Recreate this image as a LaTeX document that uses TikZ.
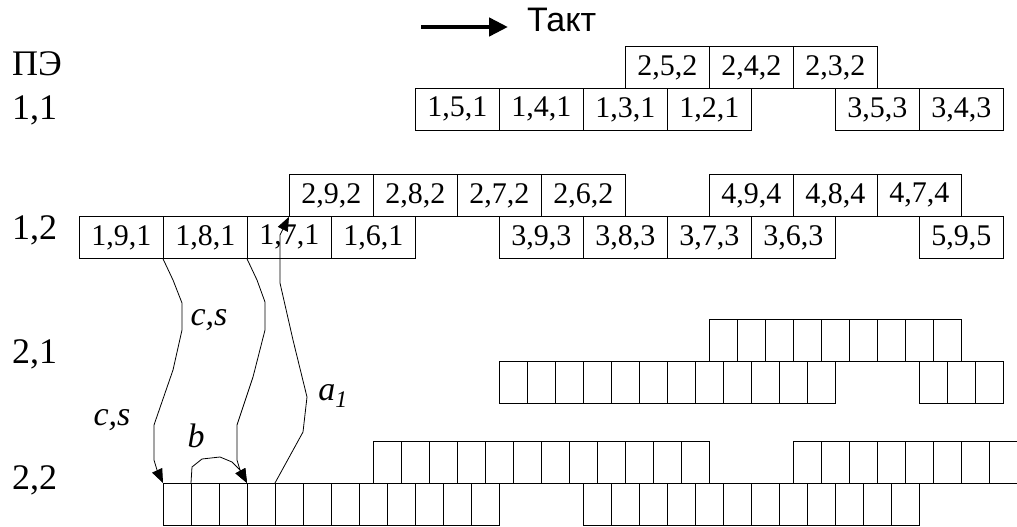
\documentclass[tikz,border=0pt]{standalone}
\usepackage{fontspec}
\setmainfont{Liberation Serif}
\newfontfamily\sansf{Liberation Sans}
\usetikzlibrary{arrows.meta}
\begin{document}
\begin{tikzpicture}[x=1pt,y=-1pt,
 box/.style={draw, line width=0.8pt, minimum width=84pt, minimum height=42pt, inner sep=0pt, anchor=north west, font=\fontsize{30}{30}\selectfont},
 cell/.style={draw, line width=0.8pt, minimum width=28pt, minimum height=42pt, inner sep=0pt, anchor=north west},
 lbl/.style={anchor=west, inner sep=0pt, font=\fontsize{36}{36}\selectfont},
 ital/.style={inner sep=0pt, font=\fontsize{34}{34}\selectfont\itshape},
 conn/.style={line width=0.8pt},
 tip/.style={-{Triangle[length=14pt,width=11pt]}}]
\useasboundingbox (0,0) rectangle (1017,527);
\clip (0,0) rectangle (1017,527);
% time arrow
\coordinate (ts) at (421,27);
\coordinate (te) at (508,27);
\draw[line width=4.5pt, -{Triangle[length=19pt,width=18pt]}] (ts) -- (te);
\node[anchor=base west, inner sep=0pt, font=\sansf\fontsize{34}{34}\selectfont] (takt) at (527,32) {Такт};
% row labels
\node[lbl] (lpe) at (12,64) {ПЭ};
\node[lbl] (l11) at (12,110) {1,1};
\node[lbl] (l12) at (12,230) {1,2};
\node[lbl] (l21) at (12,354) {2,1};
\node[lbl] (l22) at (12,480) {2,2};
% PE 1,1
\node[box] (n252) at (625,46) {2,5,2};
\node[box] (n242) at (709,46) {2,4,2};
\node[box] (n232) at (793,46) {2,3,2};
\node[box] (n151) at (415,88) {1,5,1};
\node[box] (n141) at (499,88) {1,4,1};
\node[box] (n131) at (583,88) {1,3,1};
\node[box] (n121) at (667,88) {1,2,1};
\node[box] (n353) at (835,88) {3,5,3};
\node[box] (n343) at (919,88) {3,4,3};
% PE 1,2
\node[box] (n292) at (289,174) {2,9,2};
\node[box] (n282) at (373,174) {2,8,2};
\node[box] (n272) at (457,174) {2,7,2};
\node[box] (n262) at (541,174) {2,6,2};
\node[box] (n494) at (709,174) {4,9,4};
\node[box] (n484) at (793,174) {4,8,4};
\node[box] (n474) at (877,174) {4,7,4};
\node[box] (n191) at (79,216) {1,9,1};
\node[box] (n181) at (163,216) {1,8,1};
\node[box] (n171) at (247,216) {1,7,1};
\node[box] (n161) at (331,216) {1,6,1};
\node[box] (n393) at (499,216) {3,9,3};
\node[box] (n383) at (583,216) {3,8,3};
\node[box] (n373) at (667,216) {3,7,3};
\node[box] (n363) at (751,216) {3,6,3};
\node[box] (n595) at (919,216) {5,9,5};
% PE 2,1
\foreach \i in {0,...,8} \node[cell] (a\i) at (709+28*\i,319) {};
\foreach \i in {0,...,11} \node[cell] (b\i) at (499+28*\i,361) {};
\foreach \i in {0,...,2} \node[cell] (c\i) at (919+28*\i,361) {};
% PE 2,2
\foreach \i in {0,...,11} \node[cell] (d\i) at (373+28*\i,441) {};
\foreach \i in {0,...,8} \node[cell] (e\i) at (793+28*\i,441) {};
\foreach \i in {0,...,11} \node[cell] (f\i) at (163+28*\i,483) {};
\foreach \i in {0,...,11} \node[cell] (g\i) at (583+28*\i,483) {};
% connectors
\draw[conn,tip] (n181.south west) -- (173,280) -- (182,303) -- (182,330) -- (173,370) -- (154,425) -- (154,460) -- (157,470) -- (f0.north west);
\draw[conn,tip] (n171.south west) -- (257,280) -- (265,302) -- (265,330) -- (253,377) -- (237,425) -- (237,460) -- (240,470) -- (f3.north west);
\draw[conn,tip] (f1.north west) -- (192,467) -- (202,459) -- (220,457) -- (232,462) -- (240,470) -- (f3.north west);
\draw[conn,tip] (f4.north west) -- (303,432) -- (307,397) -- (293,340) -- (280,283) -- (280,235) -- (n292.south west);
% connector labels
\node[ital] (lcs1) at (209,320) {c,s};
\node[ital] (lcs2) at (112,420) {c,s};
\node[ital] (lb) at (196,436) {b};
\node[ital] (la1) at (333,396) {a\textsubscript{1}};
\end{tikzpicture}
\end{document}
